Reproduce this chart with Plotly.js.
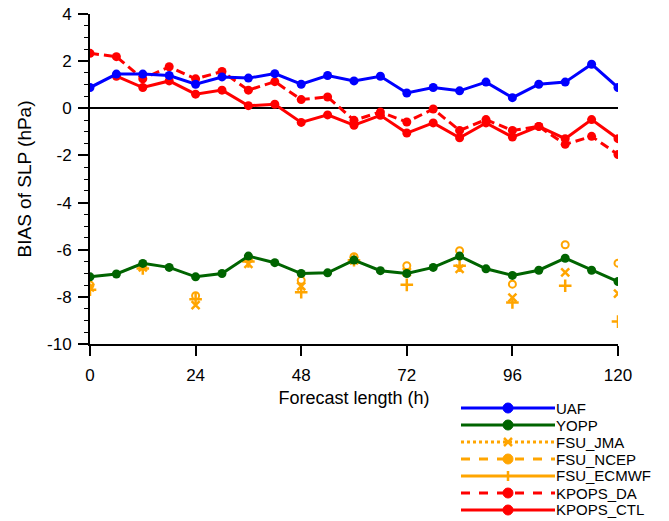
<!DOCTYPE html>
<html>
<head>
<meta charset="utf-8">
<script src="https://cdn.plot.ly/plotly-3.0.1.min.js"></script>
<style>html,body{margin:0;padding:0;background:#fff;}#chart{width:669px;height:521px;}</style>
</head>
<body>
<div id="chart"></div>
<script>
// ---- data ----
var hours = [0,6,12,18,24,30,36,42,48,54,60,66,72,78,84,90,96,102,108,114,120];
var uaf = [0.88,1.45,1.45,1.39,1.02,1.33,1.28,1.47,1.02,1.39,1.16,1.36,0.65,0.88,0.74,1.11,0.45,1.02,1.11,1.87,0.88];
var yopp = [-7.15,-7.03,-6.58,-6.75,-7.15,-7.01,-6.27,-6.55,-7.01,-6.98,-6.44,-6.89,-7.01,-6.75,-6.27,-6.81,-7.09,-6.87,-6.36,-6.87,-7.35];
var kpopsDA = [2.33,2.19,1.25,1.76,1.25,1.56,0.77,1.13,0.37,0.48,-0.51,-0.16,-0.58,-0.03,-0.94,-0.48,-0.94,-0.77,-1.53,-1.19,-1.96];
var kpopsCTL = [null,1.36,0.88,1.16,0.60,0.77,0.11,0.17,-0.60,-0.28,-0.72,-0.30,-1.05,-0.62,-1.25,-0.62,-1.22,-0.77,-1.29,-0.48,-1.29];
var fsuHours = [0,12,24,36,48,60,72,84,96,108,120];
var fsuJMA = [-7.60,-6.75,-8.35,-6.60,-7.55,-6.45,-6.95,-6.81,-8.03,-6.96,-7.86];
var fsuNCEP = [-7.50,-6.70,-7.95,-6.40,-7.30,-6.30,-6.68,-6.04,-7.46,-5.79,-6.57];
var fsuECMWF = [-7.70,-6.80,-8.10,-6.50,-7.80,-6.45,-7.49,-6.68,-8.24,-7.53,-9.05];
var xTicks = [0,24,48,72,96,120];
var yTicks = [-10,-8,-6,-4,-2,0,2,4];
var seriesNames = ['UAF','YOPP','FSU_JMA','FSU_NCEP','FSU_ECMWF','KPOPS_DA','KPOPS_CTL'];

var BLUE='#0000ff', GREEN='#006400', ORANGE='#ffa500', RED='#ff0000';
var FONT='Liberation Sans, Arial, sans-serif';

var traces = [
  {x:fsuHours,y:fsuJMA,mode:'markers',marker:{symbol:'x-thin',size:8,line:{color:ORANGE,width:2.5}},showlegend:false},
  {x:fsuHours,y:fsuECMWF,mode:'markers',marker:{symbol:'cross-thin',size:9,line:{color:ORANGE,width:2.5}},showlegend:false},
  {x:fsuHours,y:fsuNCEP,mode:'markers',marker:{symbol:'circle-open',size:7,color:ORANGE,line:{color:ORANGE,width:2}},showlegend:false},
  {x:hours,y:kpopsCTL,mode:'lines+markers',line:{color:RED,width:3},marker:{size:9,color:RED},showlegend:false},
  {x:hours,y:kpopsDA,mode:'lines+markers',line:{color:RED,width:3,dash:'9px,5px'},marker:{size:9,color:RED},showlegend:false},
  {x:hours,y:yopp,mode:'lines+markers',line:{color:GREEN,width:3},marker:{size:9,color:GREEN},showlegend:false},
  {x:hours,y:uaf,mode:'lines+markers',line:{color:BLUE,width:3},marker:{size:9,color:BLUE},showlegend:false}
];

// ---- custom legend (key lines, key markers, labels) ----
var L=90, R=618, T=14, B=344;
function px2x(p){return (p-L)/(R-L);}
function py2y(p){return (B-p)/(B-T);}
var legColors=[BLUE,GREEN,ORANGE,ORANGE,ORANGE,RED,RED];
var legDash=['solid','solid','dot','dash','solid','dash','solid'];
var legMark=['circle','circle','x','circle','cross','circle','circle'];
var shapes=[], annotations=[];
for (var i=0;i<seriesNames.length;i++){
  var yy=py2y(408+i*17);
  shapes.push({type:'line',xref:'paper',yref:'paper',x0:px2x(461),x1:px2x(555),y0:yy,y1:yy,
    line:{color:legColors[i],width:3,dash:legDash[i]}});
  var xa=px2x(508);
  if (legMark[i]==='circle'){
    shapes.push({type:'circle',xref:'paper',yref:'paper',xsizemode:'pixel',ysizemode:'pixel',
      xanchor:xa,yanchor:yy,x0:-5,x1:5,y0:-5,y1:5,fillcolor:legColors[i],line:{color:legColors[i],width:1}});
  } else if (legMark[i]==='x'){
    shapes.push({type:'line',xref:'paper',yref:'paper',xsizemode:'pixel',ysizemode:'pixel',
      xanchor:xa,yanchor:yy,x0:-4,x1:4,y0:-4,y1:4,line:{color:legColors[i],width:2.5}});
    shapes.push({type:'line',xref:'paper',yref:'paper',xsizemode:'pixel',ysizemode:'pixel',
      xanchor:xa,yanchor:yy,x0:-4,x1:4,y0:4,y1:-4,line:{color:legColors[i],width:2.5}});
  } else {
    shapes.push({type:'line',xref:'paper',yref:'paper',xsizemode:'pixel',ysizemode:'pixel',
      xanchor:xa,yanchor:yy,x0:0,x1:0,y0:-5,y1:5,line:{color:legColors[i],width:2.5}});
  }
  annotations.push({xref:'paper',yref:'paper',x:px2x(555),y:yy,xanchor:'left',yanchor:'middle',
    borderpad:0,
    text:seriesNames[i],showarrow:false,font:{family:FONT,size:15,color:'#000'}});
}

var layout = {
  width:669,height:521,
  margin:{l:L,r:669-R,t:T,b:521-B,pad:0},
  paper_bgcolor:'#fff',plot_bgcolor:'#fff',
  font:{family:FONT,size:17,color:'#000'},
  showlegend:false,
  xaxis:{range:[0,120],tickvals:xTicks,ticktext:xTicks.map(String),ticks:'outside',ticklen:10,tickwidth:2,tickcolor:'#000',
    showline:true,linewidth:2,linecolor:'#000',showgrid:false,zeroline:false,
    tickfont:{family:FONT,size:17},ticklabelstandoff:5,
    title:{text:'Forecast length (h)',font:{family:FONT,size:18},standoff:7}},
  yaxis:{range:[-10,4],tickvals:yTicks,ticktext:yTicks.map(String),ticks:'outside',ticklen:10,tickwidth:2,tickcolor:'#000',
    showline:true,linewidth:2,linecolor:'#000',showgrid:false,
    zeroline:true,zerolinecolor:'#000',zerolinewidth:2,
    minor:{dtick:0.5,ticks:'outside',ticklen:4,tickwidth:1,tickcolor:'#000',showgrid:false},
    tickfont:{family:FONT,size:17},ticklabelstandoff:3,
    title:{text:'BIAS of SLP (hPa)',font:{family:FONT,size:19},standoff:10}},
  shapes:shapes,annotations:annotations
};
Plotly.newPlot('chart',traces,layout,{displayModeBar:false,staticPlot:true});
</script>
</body>
</html>
